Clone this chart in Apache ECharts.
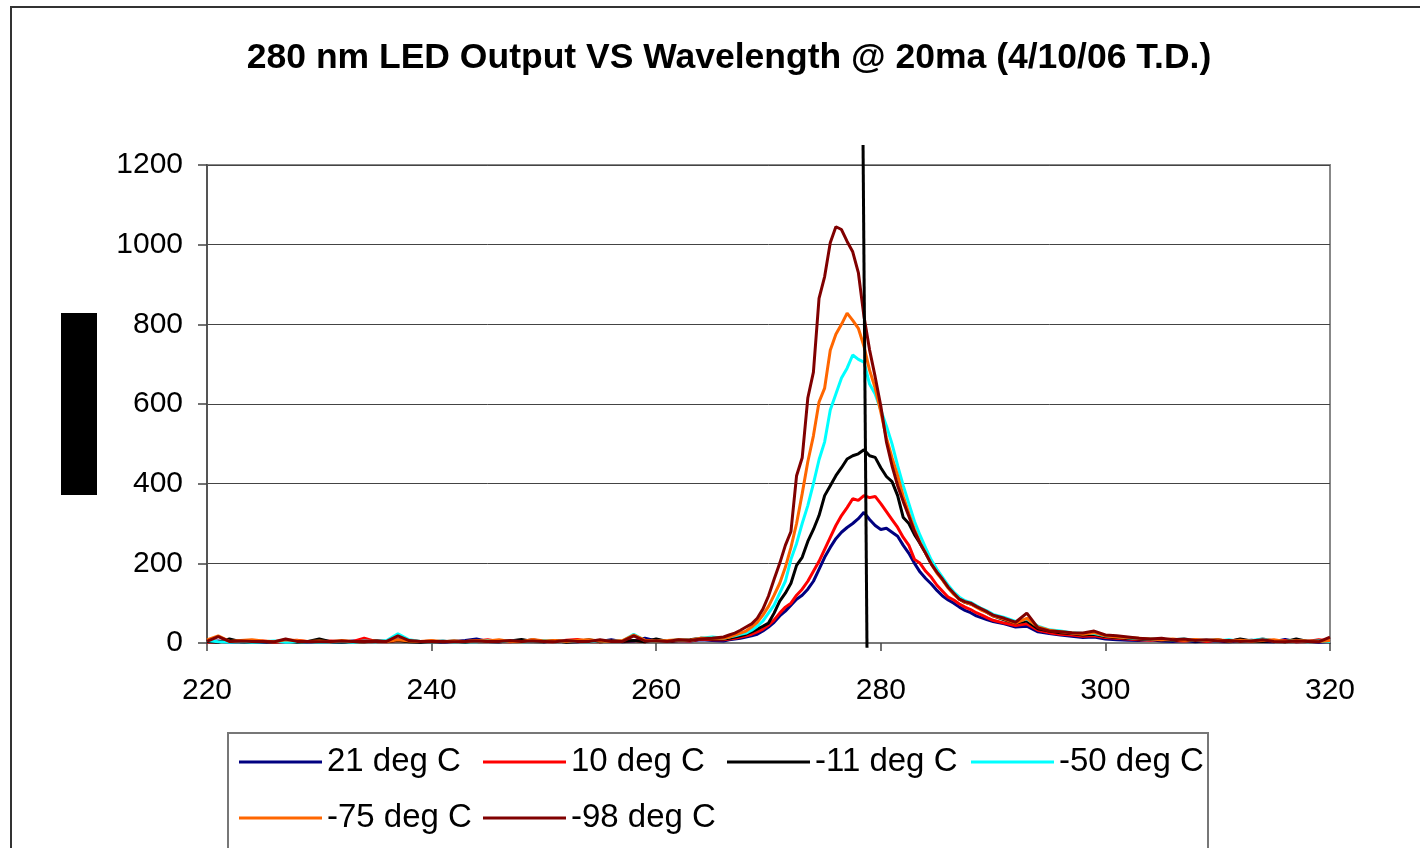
<!DOCTYPE html>
<html>
<head>
<meta charset="utf-8">
<script src="https://cdn.jsdelivr.net/npm/echarts@6/dist/echarts.min.js"></script>
<style>
  html, body { margin: 0; padding: 0; background: #fff; }
  #main { width: 1420px; height: 848px; }
</style>
</head>
<body>
<div id="main"></div>
<script>
// wavelength (nm): 1 nm steps on the baseline, 0.5 nm across the peak
const wavelengths = [
  220, 221, 222, 223, 224, 225, 226, 227, 228, 229, 230, 231, 232, 233, 234, 235,
  236, 237, 238, 239, 240, 241, 242, 243, 244, 245, 246, 247, 248, 249, 250, 251,
  252, 253, 254, 255, 256, 257, 258, 259, 260, 261, 262, 263, 264, 265,
  266, 266.5, 267, 267.5, 268, 268.5, 269, 269.5, 270, 270.5, 271, 271.5, 272, 272.5,
  273, 273.5, 274, 274.5, 275, 275.5, 276, 276.5, 277, 277.5, 278, 278.5, 279, 279.5,
  280, 280.5, 281, 281.5, 282, 282.5, 283, 283.5, 284, 284.5, 285, 285.5, 286, 286.5,
  287, 287.5, 288, 288.5, 289, 289.5, 290,
  291, 292, 293, 294, 295, 296, 297, 298, 299, 300, 301, 302, 303, 304, 305, 306,
  307, 308, 309, 310, 311, 312, 313, 314, 315, 316, 317, 318, 319, 320
];

const deg21 = [
  3, 5, 2, 4, 3, 2, 4, 3, 5, 2, 4, 3, 2, 5, 3, 6, 4, 8, 6, 3, 5, 2, 4, 6, 10, 4, 3, 5, 4, 8,
  3, 5, 4, 3, 6, 4, 8, 3, 5, 12, 5, 4, 6, 5, 8, 6,
  5, 8, 10, 12, 15, 18, 22, 30, 40, 52, 68, 80, 95, 110, 120, 135, 155, 185, 215, 240,
  262, 278, 290, 300, 312, 328, 310, 295, 285, 288, 278, 268, 245, 225, 200, 178, 162, 148,
  132, 118, 108, 100, 90, 82, 76, 68, 63, 58, 54,
  48, 40, 42, 28, 24, 20, 17, 14, 15, 10, 8, 7, 6, 8, 5, 4, 6, 3, 5, 4, 3, 5, 7, 4, 3, 9,
  3, 5, 2, 4
];
const deg10 = [
  2, 4, 3, 6, 3, 5, 2, 4, 7, 3, 4, 5, 3, 4, 12, 4, 3, 6, 5, 4, 3, 5, 2, 4, 5, 8, 4, 3, 6, 5,
  4, 3, 7, 9, 4, 3, 5, 4, 6, 3, 8, 4, 6, 5, 10, 8,
  8, 10, 12, 15, 18, 22, 28, 35, 45, 58, 75, 90, 100, 120, 135, 155, 180, 205, 235, 265,
  295, 320, 340, 362, 358, 370, 365, 368, 350, 330, 310, 290, 265, 245, 210, 200, 180, 165,
  145, 130, 115, 108, 98, 90, 84, 76, 70, 63, 57,
  50, 44, 48, 32, 26, 22, 20, 17, 18, 14, 12, 10, 8, 7, 9, 6, 5, 7, 4, 6, 5, 8, 4, 10, 5, 6,
  3, 4, 8, 5
];
const degM11 = [
  4, 2, 10, 3, 2, 4, 3, 5, 2, 4, 10, 3, 2, 4, 3, 5, 4, 6, 3, 2, 4, 3, 5, 2, 6, 4, 3, 5, 9, 4,
  3, 6, 2, 4, 8, 3, 5, 4, 6, 3, 10, 4, 6, 8, 12, 10,
  10, 12, 15, 18, 22, 28, 35, 42, 50, 75, 105, 125, 150, 195, 215, 255, 285, 320, 370, 395,
  420, 440, 462, 470, 475, 485, 470, 466, 440, 418, 405, 370, 315, 300, 272, 250, 225, 200,
  180, 160, 140, 125, 110, 102, 98, 92, 84, 76, 68,
  58, 50, 55, 36, 30, 26, 24, 20, 22, 16, 14, 12, 10, 9, 8, 7, 9, 5, 6, 8, 4, 10, 5, 4, 6, 3,
  10, 4, 5, 3
];
const degM50 = [
  6, 3, 2, 4, 2, 3, 5, 2, 3, 4, 2, 3, 4, 2, 5, 3, 6, 23, 8, 4, 3, 5, 2, 4, 3, 6, 4, 5, 3, 4,
  6, 3, 5, 4, 3, 6, 4, 5, 22, 6, 4, 5, 8, 6, 12, 15,
  12, 15, 18, 22, 25, 32, 42, 55, 75, 95, 125, 155, 210, 250, 300, 345, 400, 460, 505, 585,
  625, 665, 690, 723, 712, 705, 650, 625, 585, 545, 500, 445, 395, 350, 305, 270, 238, 208,
  185, 165, 145, 128, 115, 106, 102, 94, 86, 80, 72,
  64, 54, 60, 42, 33, 30, 26, 24, 24, 18, 16, 13, 11, 10, 9, 8, 10, 6, 7, 5, 8, 4, 6, 10, 5, 4,
  6, 3, 5, 4
];
const degM75 = [
  8, 18, 4, 6, 8, 5, 3, 8, 6, 4, 5, 3, 6, 4, 3, 5, 4, 8, 5, 4, 6, 3, 5, 4, 6, 5, 8, 4, 3, 9,
  5, 6, 4, 7, 8, 5, 4, 6, 20, 7, 5, 6, 8, 7, 12, 12,
  12, 15, 20, 25, 30, 40, 52, 70, 92, 120, 150, 190, 240, 300, 375, 455, 520, 605, 640, 735,
  775, 800, 828, 810, 790, 745, 685, 640, 580, 515, 465, 420, 368, 325, 285, 252, 225, 198,
  175, 158, 138, 122, 110, 102, 98, 90, 82, 76, 68,
  60, 50, 62, 40, 32, 28, 25, 22, 26, 18, 15, 14, 12, 10, 8, 10, 7, 9, 6, 8, 5, 7, 5, 6, 8, 4,
  6, 5, 4, 6
];
const degM98 = [
  4, 16, 4, 5, 4, 4, 3, 10, 4, 4, 3, 4, 5, 4, 4, 4, 4, 18, 6, 4, 4, 4, 3, 4, 5, 4, 4, 6, 4, 5,
  4, 3, 6, 4, 4, 8, 4, 4, 18, 5, 5, 4, 8, 6, 10, 12,
  15, 20, 25, 32, 40, 48, 62, 85, 118, 160, 200, 245, 280, 420, 465, 615, 680, 865, 920, 1005,
  1045, 1038, 1008, 982, 930, 820, 736, 668, 595, 505, 445, 395, 355, 318, 280, 250, 225, 198,
  178, 160, 140, 125, 110, 104, 100, 92, 85, 78, 70,
  62, 52, 75, 38, 30, 28, 26, 25, 30, 20, 18, 15, 12, 10, 12, 8, 10, 6, 8, 5, 6, 4, 5, 8, 4, 3,
  5, 4, 3, 15
];

const seriesNames = ['21 deg C', '10 deg C', '-11 deg C', '-50 deg C', '-75 deg C', '-98 deg C'];
const seriesValues = [deg21, deg10, degM11, degM50, degM75, degM98];
const seriesColors = ['#000080', '#ff0000', '#000000', '#00ffff', '#ff6600', '#800000'];

// hand-drawn 280 nm marker line (wavelength, value at its two ends)
const markerLine = [[278.42, 1250], [278.77, -12]];

const FONT = '"Liberation Sans", Arial, sans-serif';

const chart = echarts.init(document.getElementById('main'), null, { renderer: 'canvas' });

const series = seriesNames.map(function (name, i) {
  return {
    name: name,
    type: 'line',
    symbol: 'none',
    color: seriesColors[i],
    lineStyle: { width: 3, color: seriesColors[i] },
    data: wavelengths.map(function (w, j) { return [w, seriesValues[i][j]]; }),
    z: 2 + i
  };
});
series.push({
  name: 'marker',
  type: 'line',
  symbol: 'none',
  clip: false,
  silent: true,
  lineStyle: { width: 3, color: '#000' },
  data: markerLine,
  z: 20
});

const option = {
  animation: false,
  backgroundColor: '#fff',
  title: {
    text: '280 nm LED Output VS Wavelength @ 20ma (4/10/06 T.D.)',
    left: 724,
    top: 35,
    textAlign: 'center',
    textStyle: { fontFamily: FONT, fontSize: 35.5, fontWeight: 'bold', color: '#000' }
  },
  grid: {
    left: 207, top: 165, width: 1123, height: 478,
    show: true, borderColor: '#888', borderWidth: 2
  },
  xAxis: {
    type: 'value',
    min: 220, max: 320, interval: 20,
    axisLine: { show: true, onZero: false, lineStyle: { color: '#777', width: 2 } },
    axisTick: { show: true, length: 8, lineStyle: { color: '#444', width: 1.5 } },
    axisLabel: { margin: 33, fontFamily: FONT, fontSize: 30, color: '#000' },
    splitLine: { show: false }
  },
  yAxis: {
    type: 'value',
    min: 0, max: 1200, interval: 200,
    axisLine: { show: true, lineStyle: { color: '#555', width: 2 } },
    axisTick: { show: true, length: 9, lineStyle: { color: '#444', width: 1.5 } },
    axisLabel: {
      margin: 24, fontFamily: FONT, fontSize: 30, color: '#000',
      formatter: function (v) { return String(v); }
    },
    splitLine: { show: true, lineStyle: { color: '#444', width: 1 } }
  },
  legend: {
    data: seriesNames,
    left: 239,
    top: 739,
    width: 980,
    padding: 0,
    itemGap: 10,
    itemWidth: 83,
    itemHeight: 3,
    icon: 'rect',
    textStyle: {
      fontFamily: FONT, fontSize: 33, color: '#000',
      width: 146, lineHeight: 46, overflow: 'none'
    }
  },
  graphic: [
    {
      type: 'rect', silent: true,
      shape: { x: 11, y: 7, width: 1440, height: 900 },
      style: { fill: 'none', stroke: '#333', lineWidth: 2 }
    },
    {
      type: 'rect', silent: true,
      shape: { x: 228, y: 733, width: 980, height: 150 },
      style: { fill: 'none', stroke: '#777', lineWidth: 2 }
    },
    {
      type: 'rect', silent: true,
      shape: { x: 61, y: 313, width: 36, height: 182 },
      style: { fill: '#000' }
    }
  ],
  series: series
};

chart.setOption(option);
</script>
</body>
</html>
